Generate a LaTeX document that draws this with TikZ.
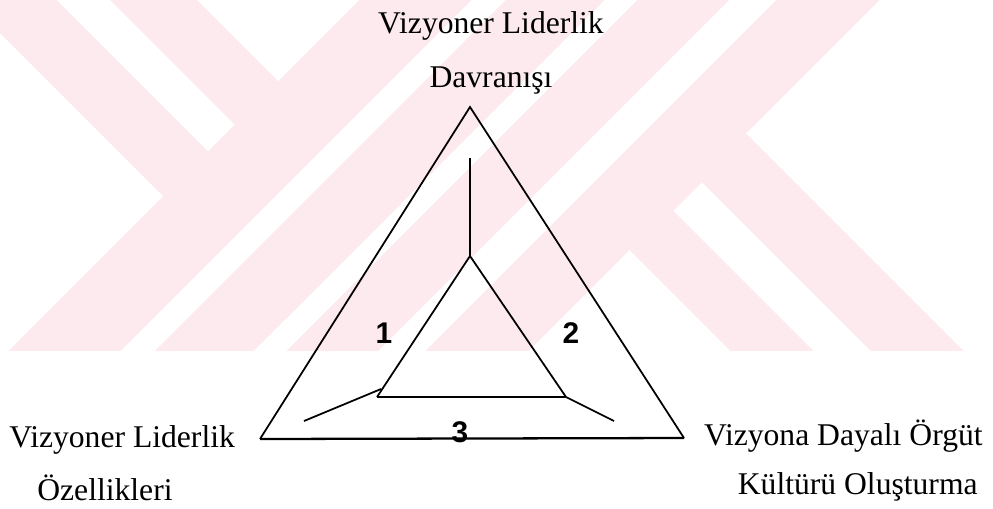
\documentclass[tikz,border=0pt]{standalone}
\usepackage{fontspec}
\setmainfont{Liberation Serif}
\setsansfont{Liberation Sans}
\usetikzlibrary{positioning}
\definecolor{markpink}{RGB}{252,234,238}
% a strip between two diagonals, given in (u,v)
\newcommand{\wmquad}[5]{\fill[#5] (#1,#2) -- (#3,#2) -- (#3,#4) -- (#1,#4) -- cycle;}

\begin{document}
\begin{tikzpicture}[
        x=0.02cm, y=-0.02cm,
        concept/.style={font=\fontsize{18}{20}\selectfont, inner sep=0pt},
        num/.style={font=\sffamily\bfseries\fontsize{17}{19}\selectfont, inner sep=0pt},
        side/.style={line width=1pt, line join=miter},
        basis/.style={line width=1.3pt},
        spoke/.style={line width=1pt},
        band/.style={fill=markpink, draw=none},
        gap/.style={fill=white, draw=none}
    ]
        \useasboundingbox (0,0) rectangle (993,508);
        \fill[white] (0,0) rectangle (993,508);

        % faint watermark, drawn in diagonal (u,v) axes
        \begin{scope}
            \clip (0,0) rectangle (993,350);
            \begin{scope}[x={(0.01cm,0.01cm)}, y={(0.01cm,-0.01cm)}]
                \wmquad{-33}{-50}{197}{605}{band}
                \wmquad{57}{-50}{110}{360}{gap}
                \wmquad{-400}{360}{1000}{605}{band}
                \wmquad{-400}{472}{1000}{506}{gap}
                \wmquad{-400}{638}{1000}{880}{band}
                \wmquad{-400}{730}{1000}{777}{gap}
                \wmquad{380}{880}{613}{1400}{band}
                \wmquad{463}{885}{520}{1400}{gap}
            \end{scope}
        \end{scope}

        \coordinate (apex) at (470,107);
        \coordinate (baseL) at (260,439);
        \coordinate (baseR) at (684,438);
        \coordinate (inApex) at (470,256);
        \coordinate (inL) at (377,397);
        \coordinate (inR) at (566,397);
        \coordinate (stemTop) at (470,158);
        \coordinate (legL) at (381,389);
        \coordinate (legLend) at (304,421);
        \coordinate (legRend) at (614,421);

        \draw[side] (baseL) -- (apex) -- (baseR);
        \draw[basis] (baseL) -- (baseR);
        \draw[side] (inL) -- (inApex) -- (inR);
        \draw[basis] (inL) -- (inR);
        \draw[spoke] (stemTop) -- (inApex);
        \draw[spoke] (legL) -- (legLend);
        \draw[spoke] (inR) -- (legRend);

        \node[concept, anchor=base] (topName) at (491,33) {Vizyoner Liderlik};
        \node[concept, anchor=base] (topSub) at (491,87) {Davranışı};
        \node[concept, anchor=base west] (leftName) at (9,447) {Vizyoner Liderlik};
        \node[concept, anchor=base west] (leftSub) at (37,500) {Özellikleri};
        \node[concept, anchor=base east] (rightName) at (983,445) {Vizyona Dayalı Örgüt};
        \node[concept, anchor=base east] (rightSub) at (978,494) {Kültürü Oluşturma};

        \node[num] (one) at (384,333) {1};
        \node[num] (two) at (571,333) {2};
        \node[num] (three) at (460,432) {3};
\end{tikzpicture}
\end{document}
